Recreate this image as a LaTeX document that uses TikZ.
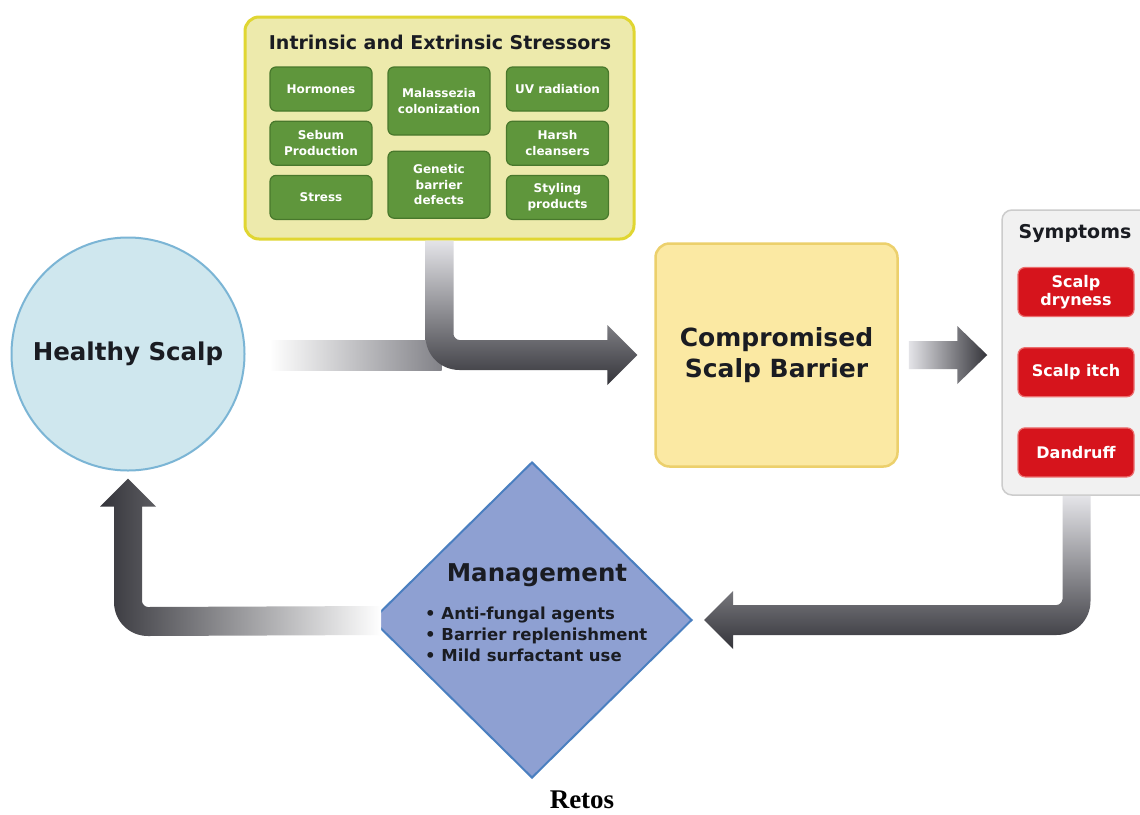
\documentclass[tikz,border=0pt]{standalone}
\usepackage{fontspec}
\newfontfamily\dvsans{DejaVu Sans}
\newfontfamily\capserif{Liberation Serif}
\usepackage{tikz}
\usetikzlibrary{calc, positioning, shapes.geometric}
\usepackage{xcolor}
\definecolor{stressFill}{RGB}{237, 234, 172}
\definecolor{stressLine}{RGB}{224, 214, 50}
\definecolor{greenFill}{RGB}{95, 150, 60}
\definecolor{greenLine}{RGB}{72, 120, 44}
\definecolor{healthyFill}{RGB}{207, 231, 238}
\definecolor{healthyLine}{RGB}{123, 181, 213}
\definecolor{barrierFill}{RGB}{251, 233, 163}
\definecolor{barrierLine}{RGB}{236, 208, 108}
\definecolor{symptFill}{RGB}{241, 241, 241}
\definecolor{symptLine}{RGB}{204, 204, 204}
\definecolor{redFill}{RGB}{214, 20, 28}
\definecolor{redLine}{RGB}{236, 110, 110}
\definecolor{mgmtFill}{RGB}{142, 160, 210}
\definecolor{mgmtLine}{RGB}{74, 127, 192}
\definecolor{arrowLight}{RGB}{228, 228, 232}
\definecolor{arrowMid}{RGB}{130, 130, 136}
\definecolor{arrowDark}{RGB}{52, 52, 58}
\definecolor{textDark}{RGB}{26, 28, 34}

\begin{document}
\begin{tikzpicture}[x=1pt, y=-1pt,
  greenbox/.style={draw=greenLine, fill=greenFill, line width=1.2pt, rounded corners=6pt,
    minimum width=102pt, minimum height=44pt, inner sep=1pt, align=center, text=white,
    font=\dvsans\bfseries\fontsize{12}{15.5}\selectfont},
  redbox/.style={draw=redLine, fill=redFill, line width=1.2pt, rounded corners=7pt,
    minimum width=116pt, minimum height=49pt, inner sep=1pt, align=center, text=white,
    font=\dvsans\bfseries\fontsize{16}{18}\selectfont},
  headtext/.style={text=textDark, inner sep=0pt, align=center}]

  % canvas
  \fill[white] (0,0) rectangle (1140,814);
  \useasboundingbox (0,0) rectangle (1140,814);

  % --- stressors ---
  \node[draw=stressLine, fill=stressFill, line width=3pt, rounded corners=14pt,
        minimum width=389pt, minimum height=222pt] (stress) at (439.5,128) {};
  \node[headtext, font=\dvsans\bfseries\fontsize{19}{22}\selectfont] (stresstitle) at (440,42)
    {Intrinsic and Extrinsic Stressors};
  \node[greenbox] (horm) at (321,89) {Hormones};
  \node[greenbox, below=9pt of horm] (sebum) {Sebum\\Production};
  \node[greenbox, below=9pt of sebum] (psych) {Stress};
  \node[greenbox, minimum height=68pt] (malass) at (439,101) {Malassezia\\colonization};
  \node[greenbox, minimum height=67pt, below=15pt of malass] (genetic) {Genetic\\barrier\\defects};
  \node[greenbox] (uvrad) at (557.5,89) {UV radiation};
  \node[greenbox, below=9pt of uvrad] (harsh) {Harsh\\cleansers};
  \node[greenbox, below=9pt of harsh] (styling) {Styling\\products};

  % --- healthy scalp ---
  \node[circle, draw=healthyLine, fill=healthyFill, line width=2pt, minimum size=233pt,
        inner sep=0pt, headtext, font=\dvsans\bfseries\fontsize{24.5}{28}\selectfont]
        (healthy) at (128,354) {Healthy Scalp};

  % --- compromised barrier ---
  \node[draw=barrierLine, fill=barrierFill, line width=2.5pt, rounded corners=14pt,
        minimum width=242pt, minimum height=223pt, headtext,
        font=\dvsans\bfseries\fontsize{25}{31}\selectfont]
        (barrier) at (776.5,355) {Compromised\\Scalp Barrier};

  % --- symptoms ---
  \node[draw=symptLine, fill=symptFill, line width=1.5pt, rounded corners=10pt,
        minimum width=149pt, minimum height=285pt] (sympt) at (1076.5,352.5) {};
  \node[headtext, font=\dvsans\bfseries\fontsize{19}{22}\selectfont] (symptitle) at (1075,233) {Symptoms};
  \node[redbox] (dry) at (1076,292) {Scalp\\dryness};
  \node[redbox, below=30pt of dry] (itch) {Scalp itch};
  \node[redbox, below=30pt of itch] (dandruff) {Dandruff};

  % --- arrows ---
  \coordinate (bend1) at (stress.south |- barrier.west);
  \coordinate (gap2) at (barrier.east -| sympt.west);
  \coordinate (bend3) at (sympt.south |- 0,620);
  \coordinate (bend4) at (healthy.south |- 0,621);

  % faded lead-in from the healthy scalp
  \shade[left color=white, right color=arrowMid]
    ($(healthy.east |- bend1)+(24,-15)$) rectangle ($(bend1)+(2,15)$);
  % stressors -> barrier
  \shade[top color=arrowLight, middle color=arrowMid, bottom color=arrowDark]
    ($(stress.south)+(-14,0)$) -- ($(stress.south)+(14,0)$) -- ($(bend1)+(14,-21)$)
    .. controls ($(bend1)+(14,-18)$) and ($(bend1)+(17,-15)$) .. ($(bend1)+(20,-15)$)
    -- ($(barrier.west)+(-47,-15)$) -- ($(barrier.west)+(-47,-30)$) -- ($(barrier.west)+(-17,0)$)
    -- ($(barrier.west)+(-47,30)$) -- ($(barrier.west)+(-47,15)$) -- ($(bend1)+(20,15)$)
    .. controls ($(bend1)+(1,15)$) and ($(bend1)+(-14,0)$) .. ($(bend1)+(-14,-19)$) -- cycle;
  % barrier -> symptoms
  \shade[left color=arrowLight, right color=arrowDark]
    ($(barrier.east)+(10,-14)$) -- ($(gap2)+(-44,-14)$) -- ($(gap2)+(-44,-29)$)
    -- ($(gap2)+(-14,0)$) -- ($(gap2)+(-44,29)$) -- ($(gap2)+(-44,14)$)
    -- ($(barrier.east)+(10,14)$) -- cycle;

  % --- management ---
  \node[diamond, draw=mgmtLine, fill=mgmtFill, line width=2pt, minimum width=320pt,
        minimum height=316pt, inner sep=0pt] (mgmt) at (532,620) {};

  % symptoms -> management
  \shade[top color=arrowLight, middle color=arrowMid, bottom color=arrowDark]
    ($(sympt.south)+(-14,0)$) -- ($(bend3)+(-14,-21)$)
    .. controls ($(bend3)+(-14,-18)$) and ($(bend3)+(-17,-15)$) .. ($(bend3)+(-20,-15)$)
    -- ($(mgmt.east)+(40,-15)$) -- ($(mgmt.east)+(40,-29)$) -- ($(mgmt.east)+(11,0)$)
    -- ($(mgmt.east)+(40,29)$) -- ($(mgmt.east)+(40,15)$) -- ($(bend3)+(-20,15)$)
    .. controls ($(bend3)+(-1,15)$) and ($(bend3)+(14,0)$) .. ($(bend3)+(14,-19)$)
    -- ($(sympt.south)+(14,0)$) -- cycle;
  % management -> healthy scalp
  \shade[left color=arrowDark, middle color=arrowMid, right color=white]
    ($(mgmt.west)+(10,-14)$) -- ($(bend4)+(20,-14)$)
    .. controls ($(bend4)+(17,-14)$) and ($(bend4)+(14,-17)$) .. ($(bend4)+(14,-20)$)
    -- ($(healthy.south)+(14,35)$) -- ($(healthy.south)+(28,35)$) -- ($(healthy.south)+(0,7)$)
    -- ($(healthy.south)+(-28,35)$) -- ($(healthy.south)+(-14,35)$) -- ($(bend4)+(-14,-19)$)
    .. controls ($(bend4)+(-14,0)$) and ($(bend4)+(1,15)$) .. ($(bend4)+(20,15)$)
    -- ($(mgmt.west)+(10,15)$) -- cycle;

  \node[headtext, font=\dvsans\bfseries\fontsize{24.5}{28}\selectfont] (mgmttitle) at (537,575) {Management};
  \node[headtext, align=left, anchor=west, font=\dvsans\bfseries\fontsize{16.5}{21}\selectfont]
    (mgmtlist) at (425,634) {\textbullet\ Anti-fungal agents\\\textbullet\ Barrier replenishment\\\textbullet\ Mild surfactant use};

  % caption
  \node[font=\capserif\bfseries\fontsize{27}{30}\selectfont, inner sep=0pt] (caption) at (582,800) {Retos};
\end{tikzpicture}
\end{document}
